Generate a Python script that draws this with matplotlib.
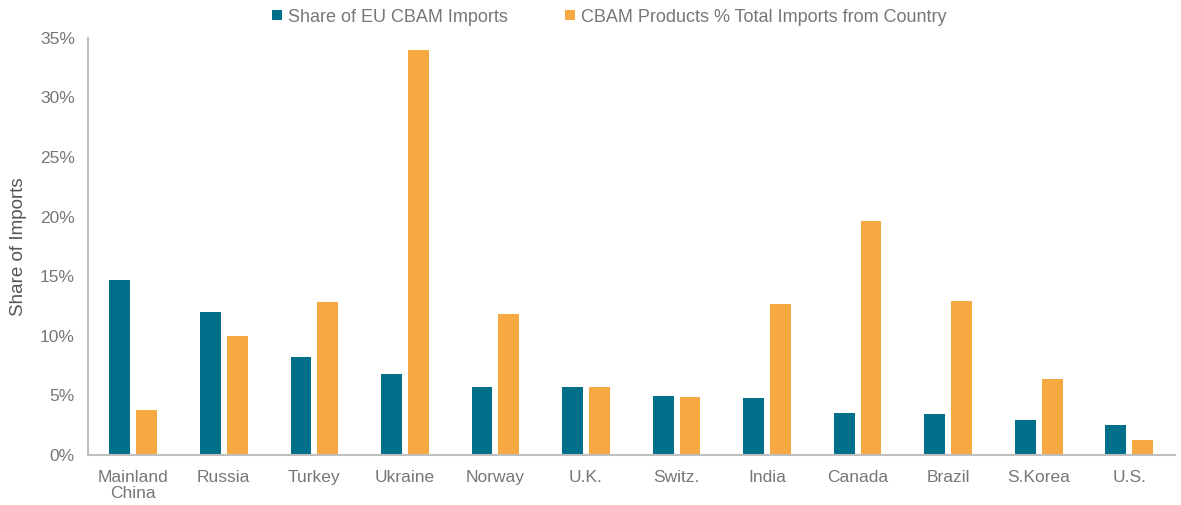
import matplotlib
matplotlib.use("Agg")
import matplotlib.pyplot as plt
import numpy as np

categories = ["Mainland\nChina", "Russia", "Turkey", "Ukraine", "Norway", "U.K.",
              "Switz.", "India", "Canada", "Brazil", "S.Korea", "U.S."]
share_eu = [14.7, 12.0, 8.2, 6.8, 5.7, 5.7, 4.95, 4.8, 3.5, 3.4, 2.9, 2.5]
cbam_pct = [3.8, 10.0, 12.8, 34.0, 11.8, 5.7, 4.9, 12.7, 19.6, 12.9, 6.4, 1.3]
yticks = [0, 5, 10, 15, 20, 25, 30, 35]

plt.rcParams['font.family'] = ['Liberation Sans', 'DejaVu Sans']
grey = '#777777'
teal = '#00708a'
orange = '#f7a941'

fig = plt.figure(figsize=(11.81, 5.05), dpi=100)
ax = fig.add_axes([0.0745, 0.099, 0.92, 0.826])
x = np.arange(len(categories))
w = 0.23
ax.bar(x - 0.148, share_eu, w, color=teal, label='Share of EU CBAM Imports')
ax.bar(x + 0.148, cbam_pct, w, color=orange, label='CBAM Products % Total Imports from Country')

ax.set_xlim(-0.5, len(categories) - 0.5)
ax.set_ylim(0, 35)
ax.set_yticks(yticks)
ax.set_yticklabels([f"{t}%" for t in yticks])
ax.set_xticks(x)
ax.set_xticklabels(categories, linespacing=1.1)
ax.tick_params(axis='both', length=0, colors=grey, labelsize=12.5)
ax.tick_params(axis='x', pad=11)
ax.tick_params(axis='y', pad=9.5)
for s in ['top', 'right']:
    ax.spines[s].set_visible(False)
for s in ['left', 'bottom']:
    ax.spines[s].set_color('#bfbfbf')
    ax.spines[s].set_linewidth(1.5)
ax.set_ylabel('Share of Imports', color='#555555', fontsize=13.5)
ax.yaxis.set_label_coords(-0.056, 0.5)

leg = fig.legend(loc='upper center', bbox_to_anchor=(0.516, 1.015), ncol=2, frameon=False,
                 fontsize=13, handlelength=0.5, handleheight=0.5, handletextpad=0.35,
                 columnspacing=3.2)
for t in leg.get_texts():
    t.set_color(grey)

fig.savefig('out.png', dpi=100)
